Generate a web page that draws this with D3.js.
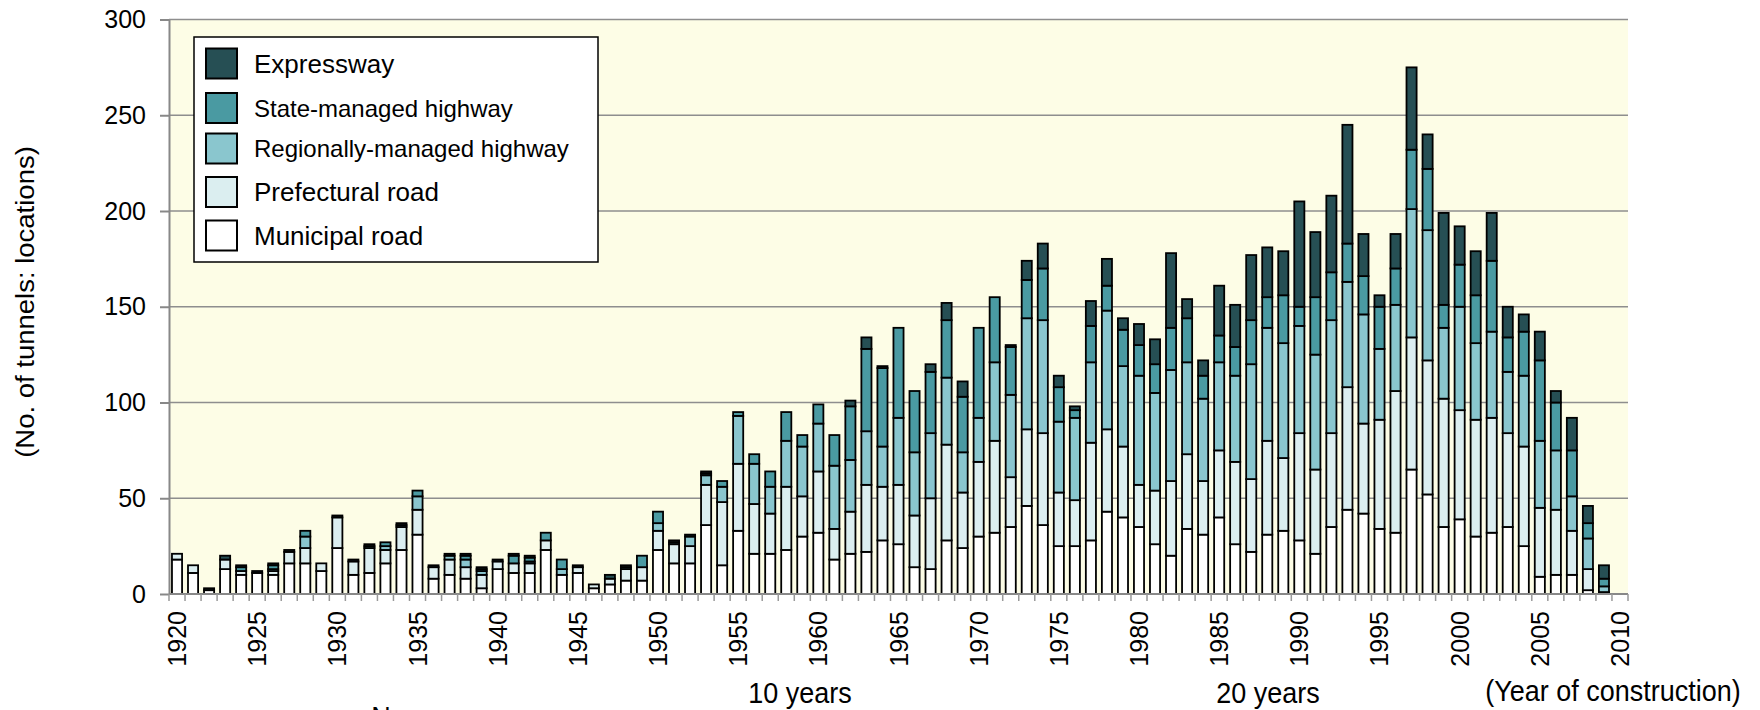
<!DOCTYPE html>
<html><head><meta charset="utf-8">
<script src="https://cdn.jsdelivr.net/npm/d3@7/dist/d3.min.js"></script>
<style>
html,body{margin:0;padding:0;background:#fff;}
svg{display:block;font-family:"Liberation Sans",Arial,sans-serif;}
</style></head><body>
<svg id="chart" width="1760" height="710"></svg>
<script>
// ---------- DATA ----------
const years = [1920,1921,1922,1923,1924,1925,1926,1927,1928,1929,
  1930,1931,1932,1933,1934,1935,1936,1937,1938,1939,
  1940,1941,1942,1943,1944,1945,1946,1947,1948,1949,
  1950,1951,1952,1953,1954,1955,1956,1957,1958,1959,
  1960,1961,1962,1963,1964,1965,1966,1967,1968,1969,
  1970,1971,1972,1973,1974,1975,1976,1977,1978,1979,
  1980,1981,1982,1983,1984,1985,1986,1987,1988,1989,
  1990,1991,1992,1993,1994,1995,1996,1997,1998,1999,
  2000,2001,2002,2003,2004,2005,2006,2007,2008,2009];
const emptySlot = [2010];

const municipal = [18,11,2,13,10,11,10,16,16,12, 24,10,11,16,23,31,8,10,8,3,
  13,11,11,23,10,11,3,5,7,7, 23,16,16,36,15,33,21,21,23,30,
  32,18,21,22,28,26,14,13,28,24, 30,32,35,46,36,25,25,28,43,40,
  35,26,20,34,31,40,26,22,31,33, 28,21,35,44,42,34,32,65,52,35,
  39,30,32,35,25,9,10,10,2,1];
const prefectural = [3,4,0,5,2,0,2,6,8,4, 16,7,13,7,12,13,6,8,6,7,
  4,5,5,5,0,3,2,3,6,7, 10,10,9,21,33,35,26,21,33,21,
  32,16,22,35,28,31,27,37,50,29, 39,48,26,40,48,28,24,51,43,37,
  22,28,39,39,28,35,43,38,49,38, 56,44,49,64,47,57,74,69,70,67,
  57,61,60,49,52,36,34,23,11,0];
const regional = [0,0,0,0,0,0,1,0,6,0, 0,0,0,2,0,7,0,2,4,2,
  0,0,1,0,3,0,0,0,0,0, 4,0,5,5,8,25,21,14,24,26,
  25,33,27,28,21,35,33,34,35,21, 23,41,43,58,59,37,43,42,62,42,
  57,51,58,48,43,46,45,60,59,60, 56,60,59,55,57,37,45,67,68,37,
  54,40,45,32,37,35,31,18,16,3];
const stateManaged = [0,0,0,0,2,0,2,0,3,0, 0,0,1,2,1,3,0,0,2,1,
  0,4,2,4,5,0,0,0,1,6, 6,1,0,1,3,2,5,8,15,6,
  10,16,28,43,41,47,32,32,30,29, 47,34,25,20,27,18,4,19,13,19,
  16,15,22,23,12,14,15,23,16,25, 10,30,25,20,20,22,19,31,32,12,
  22,25,37,18,23,42,25,24,8,4];
const expressway = [0,0,1,2,1,1,1,1,0,0, 1,1,1,0,1,0,1,1,1,1,
  1,1,1,0,0,1,0,2,1,0, 0,1,1,1,0,0,0,0,0,0,
  0,0,3,6,1,0,0,4,9,8, 0,0,1,10,13,6,2,13,14,6,
  11,13,39,10,8,26,22,34,26,23, 55,34,40,62,22,6,18,43,18,48,
  20,23,25,16,9,15,6,17,9,7];

const yTicks = [0,50,100,150,200,250,300];
const xTickLabels = ["1920","1925","1930","1935","1940","1945","1950","1955","1960",
  "1965","1970","1975","1980","1985","1990","1995","2000","2005","2010"];
const legendLabels = ["Expressway","State-managed highway","Regionally-managed highway","Prefectural road","Municipal road"];
const seriesKeys = ["municipal","prefectural","regional","stateManaged","expressway"];
const legendKeys = ["expressway","stateManaged","regional","prefectural","municipal"];
const colors = {expressway:"#264f54", stateManaged:"#4a9aa2", regional:"#8ac6ce", prefectural:"#dbeef0", municipal:"#ffffff"};

// ---------- LAYOUT ----------
const X0 = 169, X1 = 1628, Y0 = 594, Y1 = 19.5;
const svg = d3.select("#chart");

const x = d3.scaleBand().domain(years.concat(emptySlot)).range([X0, X1])
  .paddingInner(0.37).paddingOuter(0.185);
const y = d3.scaleLinear().domain([0, 300]).range([Y0, Y1]);
const xb = d3.scaleLinear().domain([1919.5, 2010.5]).range([X0, X1]);

// plot background
svg.append("rect").attr("x", X0).attr("y", y(300)).attr("width", X1 - X0)
  .attr("height", y(0) - y(300)).attr("fill", "#fdfde6");

// gridlines
svg.append("g").selectAll("line").data(yTicks.filter(v => v > 0)).join("line")
  .attr("x1", X0).attr("x2", X1).attr("y1", d => y(d)).attr("y2", d => y(d))
  .attr("stroke", "#8e8e8e").attr("stroke-width", 1.6);

// bars
const rows = years.map((yr, i) => ({year: yr, municipal: municipal[i], prefectural: prefectural[i],
  regional: regional[i], stateManaged: stateManaged[i], expressway: expressway[i]}));
const stacked = d3.stack().keys(seriesKeys)(rows);
svg.append("g").selectAll("g").data(stacked).join("g")
  .attr("fill", d => colors[d.key])
  .selectAll("rect").data(d => d.filter(s => s[1] - s[0] > 0)).join("rect")
  .attr("x", d => x(d.data.year)).attr("y", d => y(d[1]))
  .attr("width", x.bandwidth()).attr("height", d => y(d[0]) - y(d[1]))
  .attr("stroke", "#000").attr("stroke-width", 1.8);

// y axis
const yAxis = svg.append("g").attr("transform", `translate(${X0},0)`)
  .call(d3.axisLeft(y).tickValues(yTicks).tickSize(9).tickSizeOuter(0).tickPadding(14));
yAxis.select(".domain").attr("stroke", "#888").attr("stroke-width", 2);
yAxis.selectAll(".tick line").attr("stroke", "#888").attr("stroke-width", 2);
yAxis.selectAll(".tick text").attr("font-size", 25).attr("fill", "#000")
  .attr("font-family", '"Liberation Sans",Arial,sans-serif');

// x axis line + boundary ticks
svg.append("line").attr("x1", X0).attr("x2", X1).attr("y1", y(0)).attr("y2", y(0))
  .attr("stroke", "#888").attr("stroke-width", 2);
svg.append("g").selectAll("line").data(years.concat(emptySlot, [2011])).join("line")
  .attr("x1", d => xb(d - 0.5)).attr("x2", d => xb(d - 0.5))
  .attr("y1", y(0)).attr("y2", y(0) + 7)
  .attr("stroke", "#999").attr("stroke-width", 1.5);

// x tick labels
svg.append("g").selectAll("text").data(xTickLabels).join("text")
  .attr("transform", d => `translate(${x(+d) + x.bandwidth() / 2},611) rotate(-90)`)
  .attr("text-anchor", "end").attr("dy", "0.36em")
  .attr("font-size", 25).attr("fill", "#000").text(d => d);

// y title
svg.append("text").attr("transform", "translate(25,302) rotate(-90) scale(1.1,1)")
  .attr("text-anchor", "middle").attr("dy", "0.35em").attr("font-size", 25)
  .text("(No. of tunnels: locations)");

// bottom annotations
const bottomTexts = [["10 years", 800, 703], ["20 years", 1268, 703], ["(Year of construction)", 1613, 701], ["N", 381, 727]];
svg.append("g").selectAll("text").data(bottomTexts).join("text")
  .attr("transform", d => `translate(${d[1]},${d[2]}) scale(1,1.12)`)
  .attr("text-anchor", "middle").attr("font-size", 27).text(d => d[0]);

// legend
const lg = svg.append("g");
lg.append("rect").attr("x", 194).attr("y", 37).attr("width", 404).attr("height", 225)
  .attr("fill", "#fff").attr("stroke", "#000").attr("stroke-width", 1.5);
const legendRows = [63.5, 108, 148.5, 192, 235.5];
const legendSizes = [26, 24, 24, 26, 26];
legendKeys.forEach((k, i) => {
  lg.append("rect").attr("x", 206).attr("y", legendRows[i] - 15).attr("width", 31).attr("height", 30)
    .attr("fill", colors[k]).attr("stroke", "#000").attr("stroke-width", 2);
  lg.append("text").attr("x", 254).attr("y", legendRows[i]).attr("dy", "0.36em")
    .attr("font-size", legendSizes[i]).text(legendLabels[i]);
});
</script>
</body></html>
